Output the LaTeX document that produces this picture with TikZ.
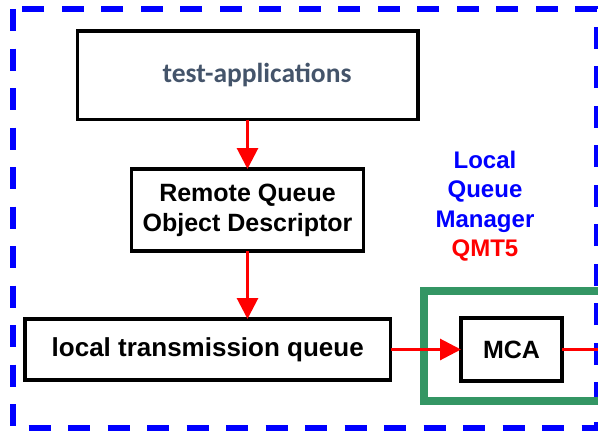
\documentclass[tikz,border=0pt]{standalone}
\usepackage{fontspec}
\setmainfont{Liberation Sans}
\newfontfamily\calfont{Carlito}
\usetikzlibrary{positioning, arrows.meta}
\definecolor{qmgray}{RGB}{68,84,106}
\definecolor{qmgreen}{RGB}{52,150,100}

\begin{document}
\begin{tikzpicture}[x=1pt, y=-1pt]
\tikzstyle{qm_box}=[rectangle, draw, line width=3.5pt, inner sep=0pt, outer sep=0pt,
	align=center, font=\bfseries\fontsize{25}{30}\selectfont]
\tikzstyle{qm_flow}=[red, line width=3pt, -{Triangle[length=21pt, width=21pt]}]

\useasboundingbox (0,0) rectangle (598,431);
\clip (0,0) rectangle (598,431);

% local queue manager frame
\draw[blue, line width=6pt, dash pattern=on 22pt off 17.5pt] (13,9) rectangle (597,428);

\node at (247.5,75.25) [qm_box, minimum width=340.5pt, minimum height=88.5pt,
	text=qmgray, font=\calfont\bfseries\fontsize{27.5}{32}\selectfont] (apps)
	{\hspace*{19pt}test-applications};
\node [qm_box, below=49.5pt of apps, minimum width=232pt, minimum height=82pt] (rqd)
	{Remote Queue\\Object Descriptor};
\node at (207.75,349.5) [qm_box, minimum width=365.5pt, minimum height=61pt,
	font=\bfseries\fontsize{26}{30}\selectfont] (xmitq) {local transmission queue};

% channel
\draw[qmgreen, line width=8pt] (610,291) -- (424,291) -- (424,401) -- (610,401);
\node [qm_box, right=70.5pt of xmitq, minimum width=101pt, minimum height=63pt] (mca) {MCA};
\coordinate (out) at (mca.east -| 600,0);

\node at (485,206) [align=center, text=blue, font=\bfseries\fontsize{24}{29.5}\selectfont] (qmgr)
	{Local\\Queue\\Manager\\{\color{red}QMT5}};

\draw[qm_flow] (apps.south) -- (rqd.north);
\draw[qm_flow] (rqd.south) -- (rqd.south |- xmitq.north);
\draw[qm_flow] (xmitq.east) -- (mca.west);
\draw[red, line width=3pt] (mca.east) -- (out);

\end{tikzpicture}
\end{document}
